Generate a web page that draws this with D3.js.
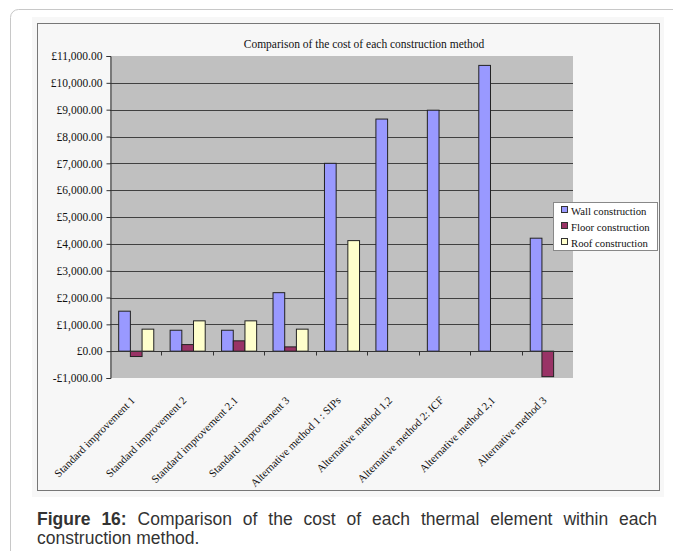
<!DOCTYPE html>
<html>
<head>
<meta charset="utf-8">
<script src="https://cdn.jsdelivr.net/npm/d3@7"></script>
<style>
  body { margin: 0; background: #fff; }
  .chart { position: relative; width: 673px; height: 551px; overflow: hidden; }
  .chart svg text { font-family: "Liberation Serif", "Times New Roman", serif; }
  .caption {
    position: absolute; left: 37px; top: 510px; width: 620px; margin: 0;
    font-family: "Liberation Sans", Arial, sans-serif; font-size: 17.5px;
    line-height: 19px; color: #333; text-align: justify; text-align-last: left;
  }
</style>
</head>
<body>
<div class="chart"></div>
<script>
var categories = [
  "Standard improvement 1",
  "Standard improvement 2",
  "Standard improvement 2.1",
  "Standard improvement 3",
  "Alternative method 1 : SIPs",
  "Alternative method 1,2",
  "Alternative method 2: ICF",
  "Alternative method 2,1",
  "Alternative method 3"
];
var series = ["Wall construction", "Floor construction", "Roof construction"];
var wallCost  = [1490, 780, 780, 2180, 7000, 8650, 8980, 10650, 4210];
var floorCost = [-200, 245, 385, 160, null, null, null, null, -950];
var roofCost  = [820, 1130, 1130, 820, 4120, null, null, null, null];
var yTicks = [-1000, 0, 1000, 2000, 3000, 4000, 5000, 6000, 7000, 8000, 9000, 10000, 11000];
var colors = ["#9999ff", "#993366", "#ffffcc"];

var svgWidth = 673;
var svgHeight = 551;
var plot = { left: 110, top: 56, right: 573, bottom: 378 };

var svg = d3.select(".chart")
  .append("svg")
  .attr("width", svgWidth)
  .attr("height", svgHeight);

// outer card
svg.append("rect")
  .attr("x", 10.5).attr("y", 9.5)
  .attr("width", 700).attr("height", 600)
  .attr("rx", 8)
  .attr("fill", "#fff")
  .attr("stroke", "#c8c8c8");

// chart area and its frame
svg.append("rect")
  .attr("x", 32).attr("y", 17)
  .attr("width", 632).attr("height", 480)
  .attr("fill", "#f7f7f7");
svg.append("rect")
  .attr("x", 37.5).attr("y", 23.5)
  .attr("width", 622).attr("height", 467)
  .attr("fill", "none")
  .attr("stroke", "#777");

// scales
var x0 = d3.scaleBand()
  .domain(categories)
  .range([plot.left, plot.right]);
var x1 = d3.scaleBand()
  .domain(series)
  .range([0, x0.bandwidth()])
  .paddingOuter(0.7);
var y = d3.scaleLinear()
  .domain([-1000, 11000])
  .range([plot.bottom, plot.top]);

// plot background
svg.append("rect")
  .attr("x", plot.left).attr("y", plot.top)
  .attr("width", plot.right - plot.left)
  .attr("height", plot.bottom - plot.top)
  .attr("fill", "#c0c0c0");

// gridlines
svg.append("g")
  .selectAll("line")
  .data(yTicks.filter(d => d > -1000 && d < 11000))
  .enter()
  .append("line")
  .attr("x1", plot.left).attr("x2", plot.right)
  .attr("y1", d => Math.round(y(d)) + 0.5)
  .attr("y2", d => Math.round(y(d)) + 0.5)
  .attr("stroke", "#404040");

// y axis
var fmt = d3.format(",.2f");
var leftAxis = d3.axisLeft(y)
  .tickValues(yTicks)
  .tickSize(4)
  .tickPadding(4)
  .tickFormat(d => (d < 0 ? "-£" : "£") + fmt(Math.abs(d)));
var yAxisG = svg.append("g")
  .attr("transform", `translate(${plot.left + 0.5}, 0)`)
  .call(leftAxis)
  .attr("font-family", null);
yAxisG.select(".domain").attr("stroke", "#333");
yAxisG.selectAll(".tick line").attr("stroke", "#333");
yAxisG.selectAll("text")
  .style("font-size", "11.5px")
  .attr("fill", "#111");

// bars
var rows = categories.map((c, i) => ({ cat: c, vals: [wallCost[i], floorCost[i], roofCost[i]] }));
var groups = svg.append("g")
  .selectAll("g")
  .data(rows)
  .enter()
  .append("g")
  .attr("transform", d => `translate(${x0(d.cat)}, 0)`);
groups.selectAll("rect")
  .data(d => d.vals.map((v, k) => ({ key: series[k], k: k, v: v })).filter(e => e.v !== null))
  .enter()
  .append("rect")
  .attr("x", d => x1(d.key) + 0.5)
  .attr("y", d => y(Math.max(0, d.v)))
  .attr("width", x1.bandwidth())
  .attr("height", d => Math.abs(y(d.v) - y(0)))
  .attr("fill", d => colors[d.k])
  .attr("stroke", "#222")
  .attr("stroke-width", 1);

// zero axis with category boundary ticks
var zeroY = Math.round(y(0)) + 0.5;
svg.append("line")
  .attr("x1", plot.left).attr("x2", plot.right)
  .attr("y1", zeroY).attr("y2", zeroY)
  .attr("stroke", "#333");
svg.append("g")
  .selectAll("line")
  .data(categories.slice(1))
  .enter()
  .append("line")
  .attr("x1", d => Math.round(x0(d)) + 0.5)
  .attr("x2", d => Math.round(x0(d)) + 0.5)
  .attr("y1", zeroY).attr("y2", zeroY + 4)
  .attr("stroke", "#333");

// category labels
svg.append("g")
  .selectAll("text")
  .data(categories)
  .enter()
  .append("text")
  .attr("transform", d => `translate(${x0(d) + x0.bandwidth() / 2}, 401) rotate(-45)`)
  .attr("text-anchor", "end")
  .style("font-size", "11px")
  .attr("fill", "#111")
  .text(d => d);

// title
svg.append("text")
  .attr("x", 364).attr("y", 48)
  .attr("text-anchor", "middle")
  .style("font-size", "11.5px")
  .attr("fill", "#111")
  .text("Comparison of the cost of each construction method");

// legend
var legend = svg.append("g").attr("transform", "translate(553, 202)");
legend.append("rect")
  .attr("x", 0.5).attr("y", 0.5)
  .attr("width", 104).attr("height", 48)
  .attr("fill", "#fff")
  .attr("stroke", "#888");
var items = legend.selectAll("g.item")
  .data(series)
  .enter()
  .append("g")
  .attr("class", "item")
  .attr("transform", (d, i) => `translate(8, ${9 + i * 16})`);
items.append("rect")
  .attr("x", 0.5).attr("y", -4.5)
  .attr("width", 6).attr("height", 6)
  .attr("fill", (d, i) => colors[i])
  .attr("stroke", "#333");
items.append("text")
  .attr("x", 10).attr("y", 3.5)
  .style("font-size", "10.7px")
  .attr("fill", "#111")
  .text(d => d);

// caption below the chart
d3.select(".chart").append("p")
  .attr("class", "caption")
  .html("<b>Figure 16:</b> Comparison of the cost of each thermal element within each construction method.");
</script>
</body>
</html>
